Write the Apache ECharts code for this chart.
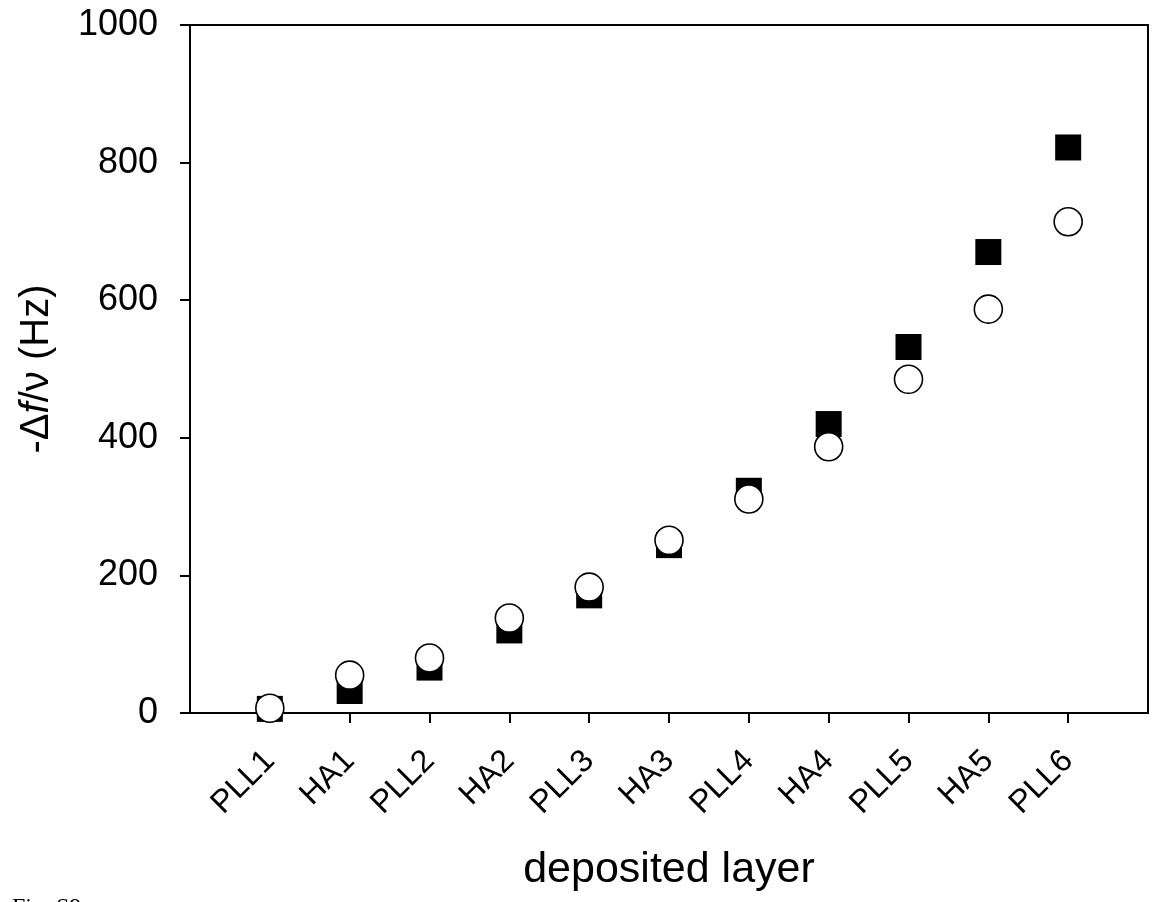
<!DOCTYPE html>
<html>
<head>
<meta charset="utf-8">
<script src="https://cdn.jsdelivr.net/npm/echarts@6/dist/echarts.min.js"></script>
<style>
  html, body { margin: 0; padding: 0; background: #fff; }
  #chart { width: 1157px; height: 902px; }
</style>
</head>
<body>
<div id="chart"></div>
<script>
// deposited layers, in order
var layers = ['PLL1', 'HA1', 'PLL2', 'HA2', 'PLL3', 'HA3', 'PLL4', 'HA4', 'PLL5', 'HA5', 'PLL6'];
// filled squares (PLL1 hidden behind the circle)
var squareVals = [6, 32, 66, 120, 171, 244, 323, 420, 532, 670, 822];
// open circles
var circleVals = [7, 55, 80, 138, 183, 251, 311, 387, 485, 587, 714];
var yTicks = [0, 200, 400, 600, 800, 1000];

// pad one empty slot on each side so the points sit one step inside the frame
var axisCats = [''].concat(layers, ['']);
function toPoints(vals) {
  return vals.map(function (v, i) { return [i + 1, v]; });
}
var font = 'Liberation Sans, Arial, sans-serif';

var chart = echarts.init(document.getElementById('chart'));
chart.setOption({
  animation: false,
  backgroundColor: '#fff',
  grid: {
    left: 190, right: 9, top: 25, bottom: 189,
    show: true, borderColor: '#000', borderWidth: 2
  },
  xAxis: {
    type: 'category',
    data: axisCats,
    boundaryGap: false,
    name: 'deposited layer',
    nameLocation: 'middle',
    nameGap: 136,
    nameTextStyle: { fontFamily: font, fontSize: 43, color: '#000' },
    axisLine: { lineStyle: { color: '#000', width: 2 } },
    axisTick: {
      interval: function (i) { return i > 0 && i < axisCats.length - 1; },
      length: 10, lineStyle: { color: '#000', width: 2 }
    },
    axisLabel: {
      interval: function (i) { return i > 0 && i < axisCats.length - 1; },
      rotate: 45, margin: 43,
      fontFamily: font, fontSize: 32, color: '#000'
    },
    splitLine: { show: false }
  },
  yAxis: {
    type: 'value',
    min: yTicks[0], max: yTicks[yTicks.length - 1], interval: 200,
    name: '{a|-Δ}{i|f}{a|/ν (Hz)}',
    nameLocation: 'middle',
    nameGap: 133,
    nameTextStyle: {
      fontFamily: font, fontSize: 40, color: '#000',
      rich: {
        a: { fontFamily: font, fontSize: 40, color: '#000' },
        i: { fontFamily: font, fontSize: 40, color: '#000', fontStyle: 'italic' }
      }
    },
    axisLine: { show: true, lineStyle: { color: '#000', width: 2 } },
    axisTick: { show: true, length: 10, lineStyle: { color: '#000', width: 2 } },
    axisLabel: {
      margin: 32, fontFamily: font, fontSize: 36, color: '#000',
      formatter: function (v) { return String(v); }
    },
    splitLine: { show: false }
  },
  series: [
    {
      name: 'squares',
      type: 'scatter',
      symbol: 'rect',
      symbolSize: 26,
      itemStyle: { color: '#000', opacity: 1 },
      data: toPoints(squareVals),
      z: 2
    },
    {
      name: 'circles',
      type: 'scatter',
      symbol: 'circle',
      symbolSize: 28,
      itemStyle: { color: '#fff', borderColor: '#000', borderWidth: 1.6, opacity: 1 },
      data: toPoints(circleVals),
      z: 3
    }
  ],
  graphic: [{
    type: 'text',
    left: 12, top: 896,
    style: { text: 'Fig. S9', font: '24px "Liberation Serif", serif', fill: '#000' }
  }]
});
</script>
</body>
</html>
